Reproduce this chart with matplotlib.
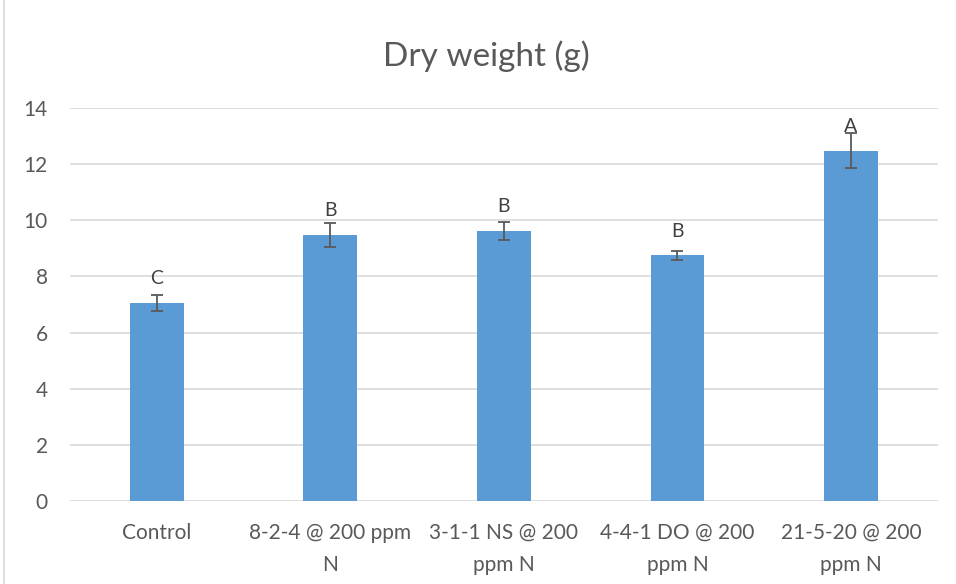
import numpy as np
import matplotlib.pyplot as plt
from matplotlib.patches import Rectangle

plt.rcParams['font.family'] = ['Lato', 'DejaVu Sans']

# Data
categories = ['Control', '8-2-4 @ 200 ppm\nN', '3-1-1 NS @ 200\nppm N',
              '4-4-1 DO @ 200\nppm N', '21-5-20 @ 200\nppm N']
dry_weight = [7.05, 9.48, 9.63, 8.75, 12.48]
err = [0.28, 0.43, 0.32, 0.17, 0.62]
letters = ['C', 'B', 'B', 'B', 'A']

text_color = '#595959'

fig = plt.figure(figsize=(9.56, 5.84), dpi=100)
ax = fig.add_axes([0.0732, 0.1421, 0.9078, 0.6729])

x = np.arange(len(categories))
ax.bar(x, dry_weight, width=0.31, color='#5B9BD5', zorder=2)
ax.errorbar(x, dry_weight, yerr=err, fmt='none', ecolor='#595959',
            elinewidth=1.3, capsize=4.3, capthick=1.3, zorder=3)

for xi, yi, lab in zip(x, dry_weight, letters):
    ax.annotate(lab, (xi, yi), xytext=(0, 17.5), textcoords='offset points',
                ha='center', va='center', fontsize=14, color='#404040')

ax.set_xlim(-0.5, len(categories) - 0.5)
ax.set_ylim(0, 14)
ax.set_yticks(np.arange(0, 15, 2))
ax.set_xticks(x)
ax.set_xticklabels(categories, fontsize=15, color=text_color, linespacing=1.75)
ax.tick_params(axis='y', labelsize=15, labelcolor=text_color, length=0, pad=16)
ax.tick_params(axis='x', length=0, pad=15.5)
ax.grid(axis='y', color='#D9D9D9', linewidth=1.2, zorder=0)
for s in ax.spines.values():
    s.set_visible(False)

fig.text(0.509, 0.903, 'Dry weight (g)', ha='center', va='center',
         fontsize=24, color=text_color)

# chart border
fig.patches.append(Rectangle((0.004, -0.01), 1.1, 1.1, transform=fig.transFigure,
                             fill=False, edgecolor='#D9D9D9', linewidth=1.2))

fig.savefig('out.png', dpi=100)
